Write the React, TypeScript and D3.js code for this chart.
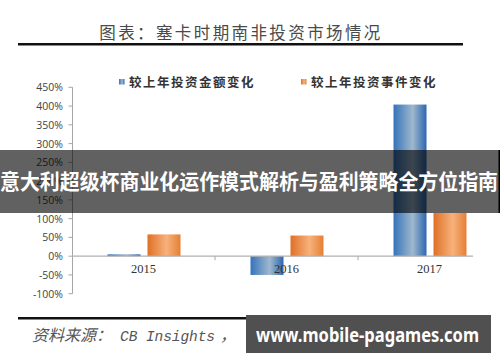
import React from 'react';
import * as d3 from 'd3';

// data
const years = ['2015', '2016', '2017'];
const seriesNames = ['较上年投资金额变化', '较上年投资事件变化'];
const amountChange = [5, -50, 404];
const eventChange = [58, 55, 115];
const yTicks = [-100, -50, 0, 50, 100, 150, 200, 250, 300, 350, 400, 450];

const W = 500;
const H = 362;

const BLUE = ['#3473bb', '#9fb8cd', '#2c67b0'];
const ORANGE = ['#df7025', '#f7b27c', '#e47f35'];

export default function App() {
  const x = d3.scaleBand<string>().domain(years).range([72, 501]);
  const xs = d3.scaleBand<number>().domain([0, 1]).range([35.5, 108.5]).paddingInner(0.175);
  const y = d3.scaleLinear().domain([-100, 450]).range([293.7, 87.3]);
  const y0 = y(0);
  const series = [amountChange, eventChange];
  const grads = ['gBlue', 'gOrange'];
  const fmt = (d: number) => `${d}%`;

  return (
    <svg width={W} height={H} style={{ position: 'absolute', left: 0, top: 0, background: '#fff' }}>
      <defs>
        {[BLUE, ORANGE].map((c, i) => (
          <linearGradient key={i} id={grads[i]} x1="0" x2="1" y1="0" y2="0">
            <stop offset="0%" stopColor={c[0]} />
            <stop offset="58%" stopColor={c[1]} />
            <stop offset="100%" stopColor={c[2]} />
          </linearGradient>
        ))}
      </defs>

      {/* title */}
      <text x={241} y={39} textAnchor="middle" fontFamily="'Noto Sans CJK SC'" fontSize={16.5}
        letterSpacing={2.4} fill="#4a4a4a">图表：塞卡时期南非投资市场情况</text>
      <rect x={18} y={43} width={445} height={2.5} fill="#111" />

      {/* legend */}
      {seriesNames.map((s, i) => {
        const lx = i === 0 ? 119 : 301;
        return (
          <g key={s}>
            <rect x={lx} y={79} width={5.5} height={5.5} fill={`url(#${grads[i]})`} />
            <text x={lx + 10} y={87} fontFamily="'Noto Sans CJK SC'" fontWeight="bold" fontSize={12.5}
              letterSpacing={1.5} fill="#333">{s}</text>
          </g>
        );
      })}

      {/* y axis */}
      <line x1={72.5} x2={72.5} y1={y(450)} y2={y(-100)} stroke="#a6a6a6" />
      {yTicks.map(t => (
        <g key={t}>
          <line x1={68.5} x2={72.5} y1={y(t)} y2={y(t)} stroke="#a6a6a6" />
          <text x={63} y={y(t) + 4} textAnchor="end" fontFamily="'Open Sans'" fontSize={10.5} fill="#444">{fmt(t)}</text>
        </g>
      ))}

      {/* bars */}
      {years.map((yr, i) => (
        <g key={yr} transform={`translate(${x(yr)},0)`}>
          {series.map((vals, k) => (
            <rect key={k} x={xs(k)} width={xs.bandwidth()}
              y={Math.min(y(vals[i]), y0)} height={Math.abs(y(vals[i]) - y0)}
              fill={`url(#${grads[k]})`} />
          ))}
        </g>
      ))}

      {/* x axis */}
      <line x1={72} x2={473} y1={y0} y2={y0} stroke="#b0b0b0" strokeWidth={1.2} />
      {years.slice(1).map(yr => (
        <line key={yr} x1={x(yr)} x2={x(yr)} y1={y0} y2={y0 + 4} stroke="#a6a6a6" />
      ))}
      {years.map(yr => (
        <text key={yr} x={(x(yr) as number) + x.bandwidth() / 2} y={y0 + 17} textAnchor="middle"
          fontFamily="'Liberation Serif'" fontSize={12.5} fill="#333">{yr}</text>
      ))}

      {/* source */}
      <rect x={18} y={317} width={445} height={2.5} fill="#111" />
      <text y={341} fontStyle="italic" fill="#555">
        <tspan x={32} fontFamily="'Noto Sans CJK SC'" fontSize={16}>资料来源：</tspan>
        <tspan x={120} fontFamily="'Liberation Mono'" fontSize={14.5} textLength={95}>CB Insights</tspan>
        <tspan x={220} fontFamily="'Noto Sans CJK SC'" fontSize={16}>，</tspan>
        <tspan x={245} fontFamily="'Noto Sans CJK SC'" fontSize={16}>恒大研究院</tspan>
      </text>

      {/* overlay banner */}
      <rect x={0} y={150} width={W} height={63} fill="#000" fillOpacity={0.62} />
      <rect x={498.5} y={150} width={1.5} height={63} fill="#000" />
      <text x={249} y={189} textAnchor="middle" fontFamily="'Noto Sans CJK SC'" fontWeight="bold" fontSize={21}
        fill="#fff" textLength={498} lengthAdjust="spacingAndGlyphs">意大利超级杯商业化运作模式解析与盈利策略全方位指南</text>

      {/* watermark */}
      <rect x={246} y={315} width={245} height={38} fill="#505050" />
      <text x={256} y={342} fontFamily="'Noto Sans'" fontWeight="bold" fontSize={20} fill="#fff"
        textLength={223} lengthAdjust="spacingAndGlyphs">www.mobile-pagames.com</text>
    </svg>
  );
}
